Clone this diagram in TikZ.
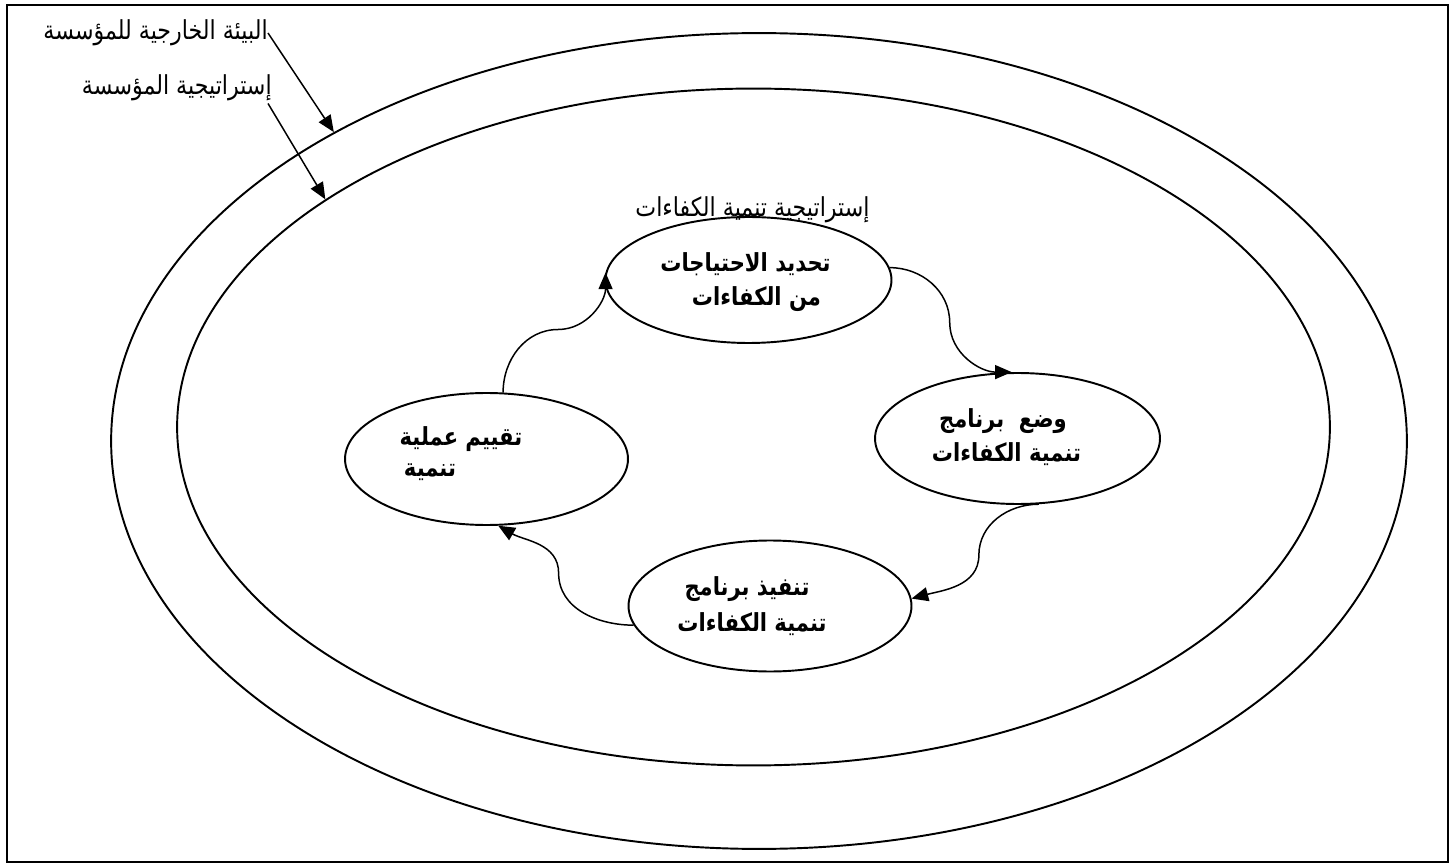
\documentclass[tikz,border=0pt]{standalone}
\usepackage{fontspec}
\usepackage{graphicx}
\newfontfamily\arabicfont[Script=Arabic]{DejaVu Sans}
\TeXXeTstate=1
\usetikzlibrary{shapes.geometric,arrows.meta}
% right-to-left line, slightly stretched upward
\newcommand\rtlline[1]{\scalebox{1}[1.18]{\beginR #1\endR}}
\begin{document}
\begin{tikzpicture}[x=0.02cm,y=-0.02cm,
  ring/.style={draw,ellipse,line width=1.1pt,inner sep=0pt},
  stage/.style={draw,ellipse,line width=1.1pt,inner sep=0pt},
  plain/.style={inner sep=0pt,font=\arabicfont\fontsize{12.6}{15}\selectfont},
  strong/.style={inner sep=0pt,font=\arabicfont\bfseries\fontsize{12}{14}\selectfont},
  conn/.style={line width=0.85pt,-{Triangle[length=9.5pt,width=8pt]}}]
\useasboundingbox (0,0) rectangle (1453,864);
% frame
\draw[line width=1.2pt] (7,5) rectangle (1448,862);
% environment and strategy rings
\node[ring,minimum width=25.92cm,minimum height=16.32cm] (outer) at (759,441) {};
\node[ring,minimum width=23.06cm,minimum height=13.54cm] (inner) at (753.5,427) {};
% stages of the cycle
\node[stage,minimum width=5.72cm,minimum height=2.52cm] (need) at (748.5,280) {};
\node[stage,minimum width=5.70cm,minimum height=2.62cm] (plan) at (1017.5,438.5) {};
\node[stage,minimum width=5.66cm,minimum height=2.62cm] (exec) at (770,606) {};
\node[stage,minimum width=5.66cm,minimum height=2.64cm] (eval) at (486.5,459) {};
% ring labels
\node[plain,anchor=east] (lblA) at (268,33) {\rtlline{البيئة الخارجية للمؤسسة}};
\node[plain,anchor=east] (lblB) at (272,88) {\rtlline{إستراتيجية المؤسسة}};
\node[plain] (lblC) at (752.5,210) {\rtlline{إستراتيجية تنمية الكفاءات}};
\draw[conn] (lblA.east) -- (outer.144);
\draw[conn] (lblB.south east) ++(-4,2) -- (inner.152.6);
% stage texts
\node[strong] (t1a) at (745.5,264) {\rtlline{تحديد الاحتياجات}};
\node[strong] (t1b) at (756.5,299) {\rtlline{من الكفاءات}};
\node[strong] (t2a) at (1003,421) {\rtlline{وضع\ \ برنامج}};
\node[strong] (t2b) at (1006.5,454) {\rtlline{تنمية الكفاءات}};
\node[strong] (t3a) at (747,589) {\rtlline{تنفيذ برنامج}};
\node[strong] (t3b) at (752,624) {\rtlline{تنمية الكفاءات}};
\node[strong] (t4a) at (461,439) {\rtlline{تقييم عملية}};
\node[strong] (t4b) at (430,472) {\rtlline{تنمية}};
% cycle connectors
\draw[conn] (need.5) to[out=0,in=90] ++(60,55) to[out=-90,in=180] (plan.95);
\draw[conn] (plan.-72) to[out=180,in=90] ++(-60,51) to[out=-90,in=15] (exec.3);
\draw[conn] (exec.188) to[out=180,in=-90] ++(-75,-52) to[out=90,in=-30] (eval.-80);
\draw[conn] (eval.76) to[out=90,in=180] ++(55,-63) to[out=0,in=-90] (need.177);
\end{tikzpicture}
\end{document}
